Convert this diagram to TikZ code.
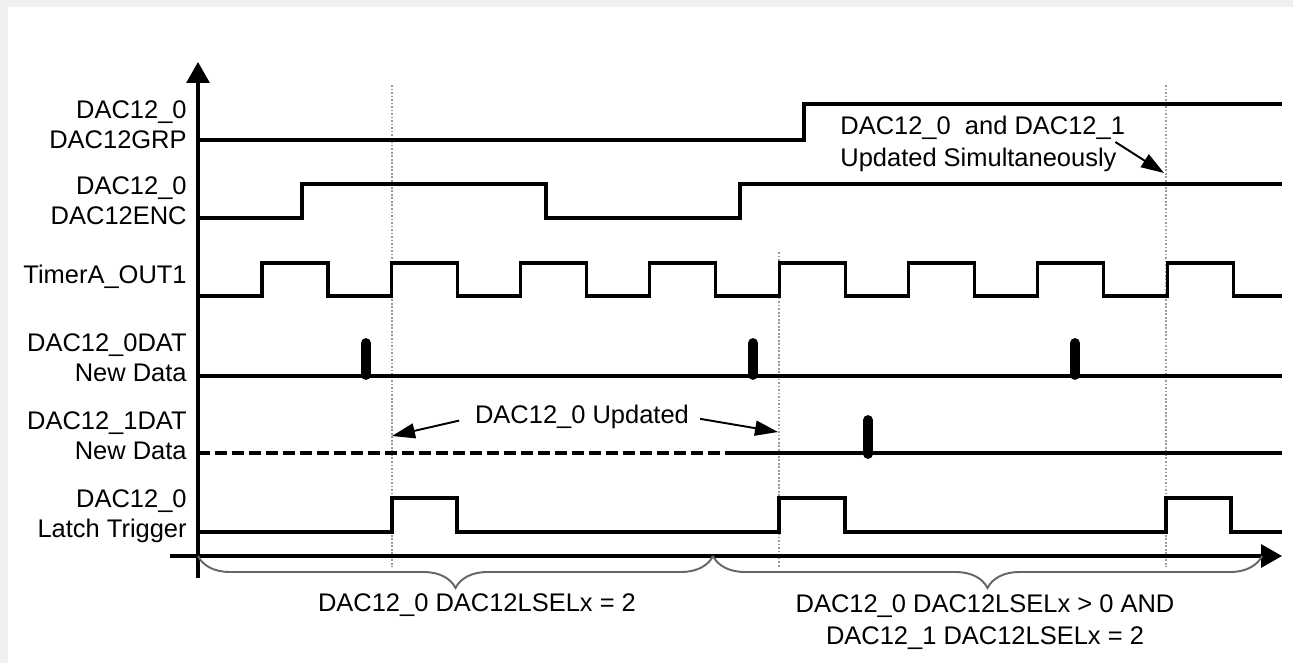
\documentclass[tikz,border=0pt]{standalone}
\usepackage{fontspec}
\setmainfont{Liberation Sans}
\usetikzlibrary{arrows.meta,positioning,decorations.pathreplacing}

\begin{document}
\begin{tikzpicture}[x=0.02cm, y=-0.02cm,
  sig/.style={line width=1.8pt, line join=miter},
  bar/.style={line width=5.6pt, line cap=round},
  guide/.style={gray!80, line width=0.7pt, dash pattern=on 1pt off 1pt},
  axis/.style={line width=1.8pt, -{Triangle[length=0.42cm, width=0.46cm]}},
  ann/.style={line width=1.1pt, -{Triangle[length=0.46cm, width=0.3cm]}},
  brc/.style={gray!80!black, line width=1.1pt, decorate, decoration={brace, mirror, amplitude=0.64cm}},
  lbl/.style={font=\fontsize{14.5}{17}\selectfont, anchor=east, align=right, inner sep=0pt},
  txt/.style={font=\fontsize{14.5}{18.5}\selectfont, inner sep=0pt}
]
  \useasboundingbox (0,0) rectangle (1293,663);
  \fill[gray!12] (0,0) rectangle (1293,663);
  \fill[white] (8,7) rectangle (1293,663);

  % signal names
  \node[lbl] (lgrp) at (187,125) {DAC12\_0\\DAC12GRP};
  \node[lbl] (lenc) at (187,201) {DAC12\_0\\DAC12ENC};
  \node[lbl] (ltimer) at (187,277) {TimerA\_OUT1};
  \node[lbl] (ldat0) at (187,358) {DAC12\_0DAT\\New Data};
  \node[lbl] (ldat1) at (187,436) {DAC12\_1DAT\\New Data};
  \node[lbl] (llatch) at (187,516) {DAC12\_0\\Latch Trigger};

  % latch instants
  \draw[guide] (392,85) -- (392,567);
  \draw[guide] (779,252) -- (779,567);
  \draw[guide] (1166,85) -- (1166,567);

  % waveforms
  \draw[sig] (198,140) -| (804,104) -- (1282,104);
  \draw[sig] (198,218) -| (302,184) -| (546,218) -| (740,184) -- (1282,184);
  \draw[sig] (198,296) foreach \k in {0,...,7} { -| ({262+129.3*\k},263) -| ({328+129.3*\k},296) } -- (1282,296);
  \draw[sig] (198,376) -- (1282,376);
  \foreach \x in {366,753,1075}
    \draw[bar] (\x,343) -- (\x,375);
  \draw[sig, dash pattern=on 0.24cm off 0.1cm] (198,453) -- (732,453);
  \draw[sig] (732,453) -- (1282,453);
  \draw[bar] (868,420) -- (868,454);
  \draw[sig] (198,532) -| (392,498) -| (457,532) -| (779,498) -| (845,532) -| (1166,498) -| (1231,532) -- (1282,532);

  % axes
  \draw[axis] (198,578) -- (198,62);
  \draw[axis] (170,556) -- (1282,556);

  % notes
  \node[txt] (upd) at (582,417) {DAC12\_0 Updated};
  \coordinate (updl) at (392,436);
  \coordinate (updr) at (778,432);
  \draw[ann, shorten <=0.32cm] (upd.west) -- (updl);
  \draw[ann, shorten <=0.22cm] (upd.east) -- (updr);

  \node[txt, anchor=west, align=left] (sim) at (840,144) {DAC12\_0\ \ and DAC12\_1\\Updated Simultaneously};
  \coordinate (simtip) at (1164,173);
  \draw[ann] ([xshift=-0.2cm, yshift=0.04cm]sim.east) -- (simtip);

  % modes
  \draw[brc] (198,556) -- (713,556);
  \draw[brc] (713,556) -- (1262,556);
  \node[txt] (mode0) at (477,605) {DAC12\_0 DAC12LSELx = 2};
  \node[txt, align=center] (mode1) at (985,622) {DAC12\_0 DAC12LSELx > 0 AND\\DAC12\_1 DAC12LSELx = 2};
\end{tikzpicture}
\end{document}
